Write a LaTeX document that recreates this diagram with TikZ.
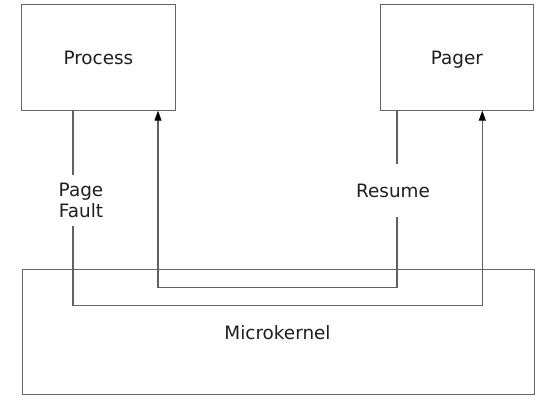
\documentclass[tikz,border=0pt]{standalone}
\usepackage{fontspec}
\setmainfont{DejaVu Sans}
\usetikzlibrary{arrows.meta}
\tikzset{
  box/.style={draw=black!60, line width=1.1pt, fill=white, inner sep=0pt, outer sep=0pt, font=\fontsize{18.4}{21}\selectfont, text=black!88, text height=14pt, text depth=0pt},
  conn/.style={draw=black!62, line width=1.1pt},
  arr/.style={-{Triangle[length=10pt,width=7pt,color=black]}, shorten >=0pt},
  lbl/.style={fill=white, inner ysep=0pt, inner xsep=10pt, font=\fontsize{18.4}{21}\selectfont, text=black!88, align=center}
}
\begin{document}
\begin{tikzpicture}[x=1pt,y=-1pt]
\useasboundingbox[fill=white] (0,0) rectangle (545,401);
% boxes
\node[box, minimum width=153.3pt, minimum height=106pt] (proc) at (98.4,57.7) {Process};
\node[box, minimum width=153.7pt, minimum height=106pt] (pager) at (456.9,57.7) {Pager};
\node[box, minimum width=512.3pt, minimum height=124.7pt] (mk) at (278.2,331.7) {};
\node[font=\fontsize{18.4}{21}\selectfont, text=black!88, anchor=base, inner sep=0pt] (mklbl) at (277.5,339) {Microkernel};
% connector coordinates
\coordinate (pfa) at (73,305.7);
\coordinate (pfb) at (482.3,305.7);
\coordinate (rsa) at (397,287.3);
\coordinate (rsb) at (158,287.3);
% page fault path
\draw[conn, arr] (proc.south -| pfa) -- (pfa) -- (pfb) -- (pager.south -| pfb);
% resume path
\draw[conn, arr] (pager.south -| rsa) -- (rsa) -- (rsb) -- (proc.south -| rsb);
% labels
\node[lbl, minimum height=51pt] (pflbl) at (81,200.5) {Page\\Fault};
\node[lbl, minimum height=53pt] (rslbl) at (393,190.7) {Resume};
\end{tikzpicture}
\end{document}
